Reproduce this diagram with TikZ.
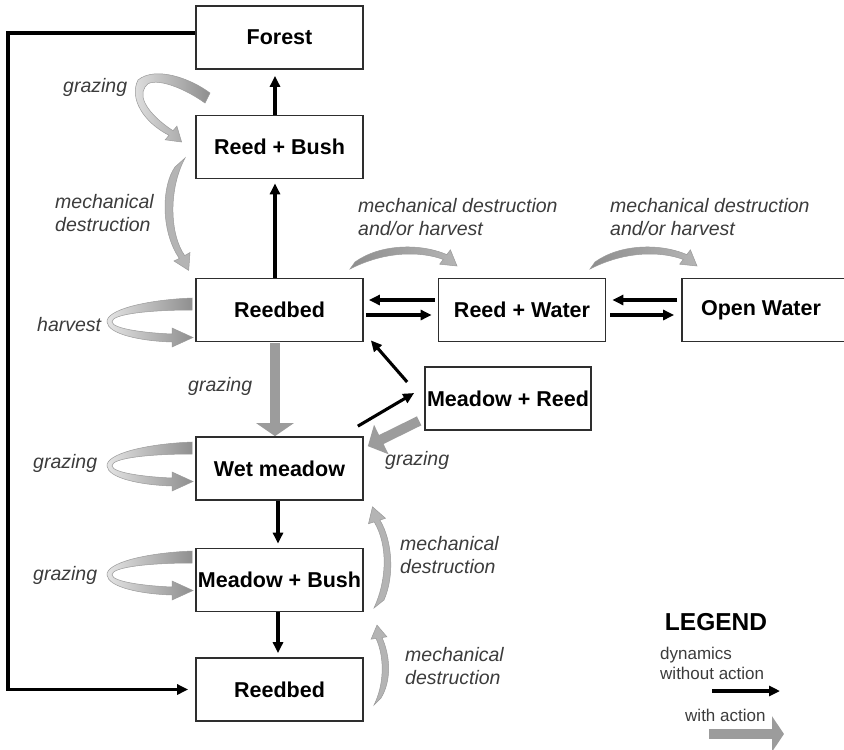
\documentclass[tikz,border=0pt]{standalone}
\usepackage{fontspec}
\setmainfont{Liberation Sans}
\usetikzlibrary{arrows.meta,calc}

\definecolor{boxline}{HTML}{2E2E2E}
\definecolor{labelgray}{HTML}{3C3C3C}
\definecolor{actiongray}{HTML}{9C9C9C}
\definecolor{ribbonedge}{HTML}{9A9A9A}
\definecolor{ribbondark}{HTML}{8E8E8E}
\definecolor{ribbonmid}{HTML}{B4B4B4}
\definecolor{ribbonlight}{HTML}{E4E4E4}

\tikzset{
  boxtext/.style={font=\bfseries\fontsize{21.5}{25}\selectfont, text=black, inner sep=0pt},
  box/.style={boxtext, draw=boxline, line width=1.7pt, minimum width=167pt, minimum height=63pt},
  note/.style={font=\itshape\fontsize{19.5}{23}\selectfont, text=labelgray, align=left, anchor=west, inner sep=0pt},
  legendtext/.style={font=\fontsize{17}{20}\selectfont, text=labelgray, align=left, anchor=west, inner sep=0pt},
  flow/.style={draw=black, line width=3.1pt, -{Triangle[length=11pt,width=10pt]}},
  action/.style={draw=actiongray, line width=10pt},
  ribbon/.style={draw=ribbonedge, line width=0.5pt},
  % self loop on the left side of a state box
  pics/loopribbon/.style={code={
    \path[ribbon, left color=ribbonlight, right color=ribbondark]
      (192,298) .. controls (145,300) and (106,310) .. (107,322)
      .. controls (108,334) and (140,341) .. (172,342)
      -- (172,347) -- (193,337.5) -- (172,328) -- (172,334)
      .. controls (146,333) and (113,329) .. (112,322)
      .. controls (111,314) and (150,310) .. (192,310) -- cycle;
  }},
  % arc over the top of a horizontal transition
  pics/arcribbon/.style={code={
    \path[ribbon, left color=ribbondark, middle color=ribbonlight, right color=ribbonmid]
      (355,262) .. controls (380,244) and (420,243) .. (446.8,254.6)
      -- (450.4,249.8) -- (457,266) -- (439.6,264.2) -- (443.2,259.4)
      .. controls (420,251) and (385,251) .. (350,269) -- cycle;
  }}
}

\begin{document}
\begin{tikzpicture}[x=1pt,y=-1pt]
\useasboundingbox (0,0) rectangle (844,750);
\clip (0,0) rectangle (844,750);
\fill[white] (0,0) rectangle (844,750);

% ---- states ----
\node[box] (forest)     at (279.5,37.5) {Forest};
\node[box] (reedbush)   at (279.5,147)  {Reed + Bush};
\node[box] (reedbed)    at (279.5,310)  {Reedbed};
\node[box] (reedwater)  at (522,310)    {Reed + Water};
\node[box, minimum width=170pt] (openwater) at (767,310) {};
\node[boxtext] (openwatertext) at (761,310) {Open Water};
\node[box, minimum width=166pt] (meadowreed) at (508,398.5) {Meadow + Reed};
\node[box] (wetmeadow)  at (279.5,468.5) {Wet meadow};
\node[box] (meadowbush) at (279.5,580)   {Meadow + Bush};
\node[box] (reedbedlow) at (279.5,689.5) {Reedbed};

% ---- dynamics without action ----
\draw[flow, shorten >=6pt] ([xshift=-4.5pt]reedbush.north) -- ([xshift=-4.5pt]forest.south);
\draw[flow, shorten >=4pt] ([xshift=-4.5pt]reedbed.north) -- ([xshift=-4.5pt]reedbush.south);
\draw[flow] ([xshift=-3pt,yshift=10pt]reedwater.west) -- ([xshift=5pt,yshift=10pt]reedbed.east);
\draw[flow] ([xshift=2pt,yshift=-5pt]reedbed.east) -- ([xshift=-6pt,yshift=-5pt]reedwater.west);
\draw[flow] ([xshift=-4pt,yshift=10pt]openwater.west) -- ([xshift=6pt,yshift=10pt]reedwater.east);
\draw[flow] ([xshift=4pt,yshift=-5pt]reedwater.east) -- ([xshift=-7pt,yshift=-5pt]openwater.west);
\draw[flow] ($(meadowreed.west)+(-17,-16.5)$) -- ($(reedbed.south east)+(7,-2)$);
\draw[flow] ($(wetmeadow.north east)+(-6,-10)$) -- ($(meadowreed.west)+(-10,-5.5)$);
\draw[flow, shorten >=4pt] ([xshift=-1.5pt]wetmeadow.south) -- ([xshift=-1.5pt]meadowbush.north);
\draw[flow, shorten >=4pt] ([xshift=-1.5pt]meadowbush.south) -- ([xshift=-1.5pt]reedbedlow.north);
\coordinate (rail) at (8,0);
\draw[flow, shorten >=7pt] ([yshift=4.5pt]forest.west) -| (rail |- reedbedlow.west) -- (reedbedlow.west);

% ---- transitions with action ----
\draw[action, -{Triangle[length=13pt,width=37pt]}]
  ([xshift=-4.5pt,yshift=-1pt]reedbed.south) -- ([xshift=-4.5pt]wetmeadow.north);
\draw[action, -{Triangle[length=15pt,width=32pt]}]
  ($(meadowreed.south west)+(-5,-10)$) -- ($(wetmeadow.north east)+(4,10)$);

% grazing on reed + bush
\path[ribbon, left color=ribbonlight, right color=ribbondark]
  (210,93) .. controls (190,78) and (155,66) .. (138,80)
  .. controls (129,98) and (143,122) .. (169,135.3)
  -- (165.2,139.8) -- (181.6,142) -- (176.9,126.2) -- (173,130.7)
  .. controls (152,117) and (137,99) .. (145,87)
  .. controls (150,76) and (180,85) .. (205,103) -- cycle;

% mechanical destruction, reed + bush to reedbed
\path[ribbon, top color=ribbonmid, middle color=ribbonlight, bottom color=ribbonmid]
  (175,167) .. controls (162,185) and (160,230) .. (179.3,258.4)
  -- (174,261) -- (188.7,270.4) -- (190,252.5) -- (184.7,255.6)
  .. controls (170,235) and (168,190) .. (185,158) -- cycle;

% self loops: harvest, grazing, grazing
\pic at (0,0)   {loopribbon};
\pic at (0,144) {loopribbon};
\pic at (0,253) {loopribbon};

% arcs above the water transitions
\pic at (0,0)   {arcribbon};
\pic at (240,0) {arcribbon};

% mechanical destruction back towards wet meadow and meadow + bush
\path[ribbon, top color=ribbonmid, middle color=ribbonlight, bottom color=ribbonmid]
  (379.9,520.1) .. controls (392,540) and (395,575) .. (384,600)
  -- (374,608) .. controls (387,580) and (388,545) .. (374.2,521.9)
  -- (368.5,523.7) -- (372.5,506.8) -- (385.5,518.3) -- cycle;
\path[ribbon, top color=ribbonmid, middle color=ribbonlight, bottom color=ribbonmid]
  (382,637.6) .. controls (390,655) and (392,680) .. (381,698)
  -- (374,705) .. controls (384,685) and (385,658) .. (376,638.4)
  -- (371.1,639.2) -- (377,625.1) -- (386.9,636.8) -- cycle;

% ---- labels ----
\node[note] (lblgrazeforest) at (63,87)     {grazing};
\node[note] (lblmechleft)    at (55,213.5)  {mechanical\\destruction};
\node[note] (lblharvest)     at (37,325)    {harvest};
\node[note] (lblgrazereed)   at (188,386)   {grazing};
\node[note] (lblgrazewet)    at (33,463)    {grazing};
\node[note] (lblgrazebush)   at (33,575)    {grazing};
\node[note] (lblgrazemr)     at (385,460)   {grazing};
\node[note] (lblmechwater)   at (358,217.5) {mechanical destruction\\and/or harvest};
\node[note] (lblmechopen)    at (610,217.5) {mechanical destruction\\and/or harvest};
\node[note] (lblmechwet)     at (400,555)   {mechanical\\destruction};
\node[note] (lblmechlow)     at (405,666.5) {mechanical\\destruction};

% ---- legend ----
\node[font=\bfseries\fontsize{24.5}{28}\selectfont, inner sep=0pt] (legendtitle) at (716,622) {LEGEND};
\node[legendtext] (legendplain) at (660,663) {dynamics\\without action};
\coordinate (plainstart) at (712,691);
\coordinate (plainend) at (780,691);
\draw[flow] (plainstart) -- (plainend);
\node[legendtext] (legendaction) at (685,715) {with action};
\coordinate (actionstart) at (709,734);
\coordinate (actionend) at (784,734);
\draw[action, -{Triangle[length=12pt,width=35pt]}] (actionstart) -- (actionend);
\end{tikzpicture}
\end{document}
